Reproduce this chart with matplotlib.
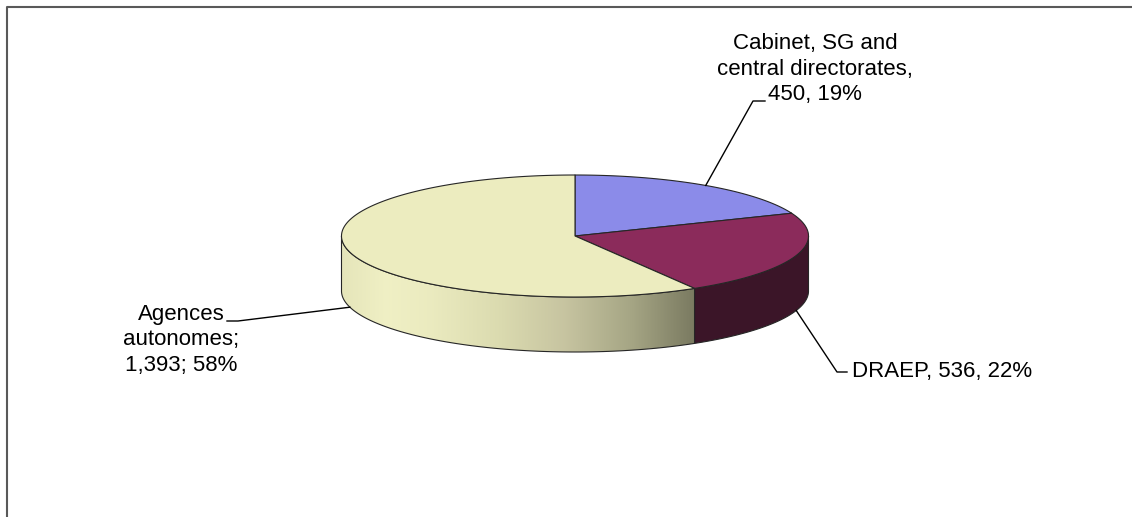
import numpy as np
import matplotlib.pyplot as plt
from matplotlib.patches import Polygon

plt.rcParams['font.family'] = ['Liberation Sans', 'DejaVu Sans']

# staff by category
names = ["Cabinet, SG and\ncentral directorates", "DRAEP", "Agences\nautonomes"]
values = [450, 536, 1393]
percents = [19, 22, 58]
seps = [",\n", ", ", ";\n"]
inner_seps = [", ", ", ", "; "]

top_colors = ["#8b8be9", "#8b2b5b", "#ececbf"]
side_colors = ["#5c5cb0", "#3b1528", None]  # None -> shaded gradient

# pie geometry in pixels
cx, cy, rx, ry, depth = 575, 236, 233.5, 61, 55
edge = "#262626"


def rim(t, drop=0.0):
    t = np.radians(np.atleast_1d(t))
    return np.column_stack([cx + rx * np.cos(t), cy - ry * np.sin(t) + drop])


fig = plt.figure(figsize=(11.32, 5.17), dpi=100)
ax = fig.add_axes([0, 0, 1, 1])
ax.set_xlim(0, 1132)
ax.set_ylim(517, 0)
ax.axis("off")

# chart frame (top and left border)
ax.plot([7, 7, 1132], [517, 7, 7], color="#595959", lw=1.5, zorder=0)

total = sum(values)
bounds = 90 - np.concatenate([[0], np.cumsum(values)]) / total * 360

# side walls: only the front half (angles between 0 and -180) is visible
for i in range(len(values)):
    hi = min(bounds[i], 0)
    lo = max(bounds[i + 1], -180)
    if hi <= lo:
        continue
    ts = np.linspace(hi, lo, 200)
    pts = np.vstack([rim(ts), rim(ts[::-1], depth)])
    if side_colors[i] is None:
        poly = Polygon(pts, closed=True, facecolor="none", edgecolor="none")
        ax.add_patch(poly)
        xs = np.linspace(pts[:, 0].min(), pts[:, 0].max(), 400)
        stops_x = [342, 385, 430, 497, 563, 630, 693]
        stops_c = np.array([
            [0.90, 0.90, 0.73],
            [0.94, 0.94, 0.77],
            [0.92, 0.92, 0.75],
            [0.86, 0.86, 0.69],
            [0.78, 0.77, 0.63],
            [0.65, 0.65, 0.52],
            [0.48, 0.48, 0.38],
        ])
        grad = np.column_stack([np.interp(xs, stops_x, stops_c[:, k]) for k in range(3)])
        im = ax.imshow(grad[np.newaxis, :, :],
                       extent=(xs[0], xs[-1], pts[:, 1].max() + 1, pts[:, 1].min() - 1),
                       aspect="auto", interpolation="bilinear", zorder=1)
        im.set_clip_path(poly)
    else:
        ax.add_patch(Polygon(pts, closed=True, facecolor=side_colors[i],
                             edgecolor="none", zorder=1))
    ax.add_patch(Polygon(pts, closed=True, facecolor="none", edgecolor=edge,
                         lw=0.8, zorder=2))

# top faces
for i in range(len(values)):
    ts = np.linspace(bounds[i], bounds[i + 1], 300)
    pts = np.vstack([[cx, cy], rim(ts)])
    ax.add_patch(Polygon(pts, closed=True, facecolor=top_colors[i],
                         edgecolor=edge, lw=0.8, joinstyle="round", zorder=3))

ax.set_xlim(0, 1132)
ax.set_ylim(517, 0)

# data labels with leader lines: (elbow, line end, text position, alignment)
layout = [
    ((753, 101), (765, 101), (815, 69), "center"),
    ((837, 372), (847, 372), (852, 371), "left"),
    ((238, 321), (227, 321), (181, 340), "center"),
]
for i, (elbow, end, txt, ha) in enumerate(layout):
    mid = (bounds[i] + bounds[i + 1]) / 2
    drop = depth if np.sin(np.radians(mid)) < 0 else 0
    start = rim(mid, drop)[0]
    ax.plot([start[0], elbow[0], end[0]], [start[1], elbow[1], end[1]],
            color="black", lw=1.0, zorder=4)
    label = f"{names[i]}{seps[i]}{values[i]:,}{inner_seps[i]}{percents[i]}%"
    ax.text(txt[0], txt[1], label, ha=ha, va="center", fontsize=16,
            linespacing=1.27, color="black", zorder=5)

fig.savefig("out.png", dpi=100)
